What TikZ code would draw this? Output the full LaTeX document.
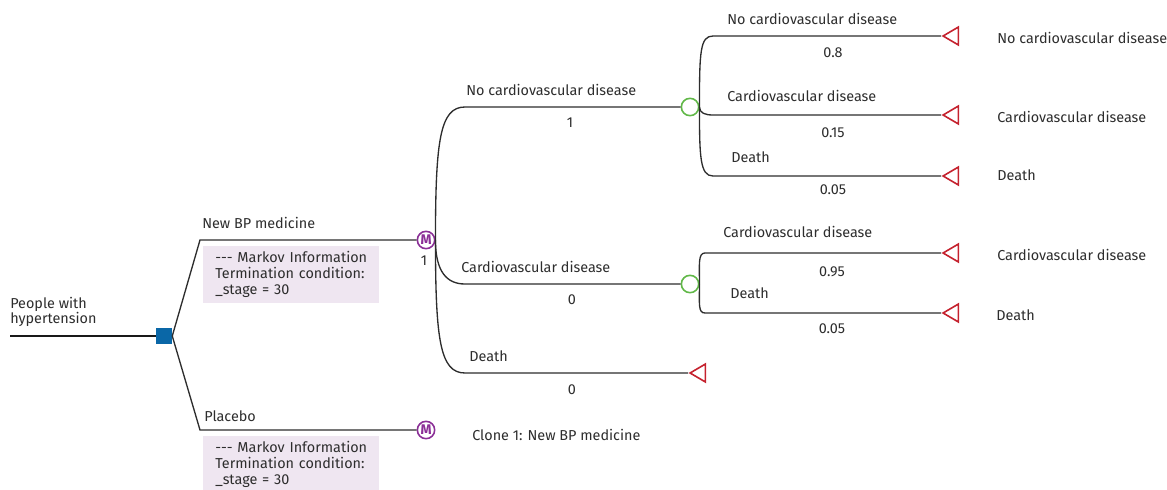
\documentclass[tikz,border=0pt]{standalone}
\usepackage{fontspec}
\setmainfont{Fira Sans}
\usetikzlibrary{calc,positioning,shapes.geometric}
\definecolor{decBlue}{RGB}{10,103,167}
\definecolor{chanceGreen}{RGB}{97,184,72}
\definecolor{markovPurple}{RGB}{139,47,151}
\definecolor{termRed}{RGB}{197,34,46}
\definecolor{infoPink}{RGB}{239,230,241}
\definecolor{txtGrey}{RGB}{45,45,45}
\tikzstyle{decision} = [rectangle, fill=decBlue, minimum size=12pt, inner sep=0pt]
\tikzstyle{markov} = [circle, draw=markovPurple, line width=1.2pt, minimum size=13pt, inner sep=0pt, text=markovPurple, font=\fontsize{10.5}{10.5}\selectfont\bfseries]
\tikzstyle{chance} = [circle, draw=chanceGreen, line width=1.2pt, minimum size=13pt, inner sep=0pt]
\tikzstyle{terminal} = [isosceles triangle, isosceles triangle stretches, shape border rotate=180, draw=termRed, line width=1.2pt, minimum height=11.5pt, minimum width=13.5pt, inner sep=0pt]
\tikzstyle{branch} = [draw=txtGrey, line width=1pt]
\tikzstyle{rootline} = [draw=black!90, line width=1.6pt]
\tikzstyle{lbl} = [text=txtGrey, inner sep=0pt, font=\fontsize{10.8}{11.3}\selectfont, anchor=base west]
\tikzstyle{prob} = [lbl, anchor=base]
\tikzstyle{info} = [fill=infoPink, text=txtGrey, anchor=north west, align=left, text width=114pt, inner xsep=9pt, inner ysep=0pt, minimum height=42.75pt, font=\fontsize{10.8}{12}\selectfont]

\begin{document}
\begin{tikzpicture}[x=0.75pt,y=-0.75pt]
      \useasboundingbox (0,0) rectangle (1167,489);
      %
      \coordinate (RootStart) at (10,336);
      \node[decision] (Treatment) at (164,336) {};
      \coordinate (NewBPCorner) at (200,240);
      \coordinate (PlaceboCorner) at (200,430);
      \node[markov] (NewBPMarkov) at (426,240) {M};
      \node[markov] (PlaceboMarkov) at (426,430) {M};
      \draw[rootline] (RootStart) -- (Treatment.west);
      \draw[branch] (Treatment.east) -- (NewBPCorner) -- (NewBPMarkov.west);
      \draw[branch] (Treatment.east) -- (PlaceboCorner) -- (PlaceboMarkov.west);
      \node[lbl, anchor=north west, align=left] (RootLabel) at (10,297) {People with\\hypertension};
      \node[lbl] (NewBPLabel) at ($(NewBPCorner)+(2,-12)$) {New BP medicine};
      \node[lbl] (PlaceboLabel) at ($(PlaceboCorner)+(4,-9)$) {Placebo};
      \node[info] (NewBPInfo) at (203,246) {-{}-{}- Markov Information\\Termination condition:\\\_stage = 30};
      \node[info] (PlaceboInfo) at (203,436) {-{}-{}- Markov Information\\Termination condition:\\\_stage = 30};
      \node[prob] (NewBPProb) at ($(NewBPMarkov)+(-2,25)$) {1};
      \node[lbl] (CloneLabel) at ($(PlaceboMarkov)+(46,10)$) {Clone 1: New BP medicine};
      %
      \coordinate (NoCvdCorner) at (465,107);
      \coordinate (CvdCorner) at (465,284);
      \coordinate (DeathCorner) at (465,373);
      \node[chance] (NoCvdChance) at (690,107) {};
      \node[chance] (CvdChance) at (690,284) {};
      \node[terminal, anchor=apex] (DeathEnd) at (688,373) {};
      \draw[branch] (NewBPMarkov.east) .. controls +(0,-100) and +(-25,0) .. (NoCvdCorner) -- (NoCvdChance.west);
      \draw[branch] (NewBPMarkov.east) .. controls +(0,32) and +(-18,0) .. (CvdCorner) -- (CvdChance.west);
      \draw[branch] (NewBPMarkov.east) .. controls +(0,100) and +(-25,0) .. (DeathCorner) -- (DeathEnd.apex);
      \node[lbl] (NoCvdLabel) at ($(NoCvdCorner)+(1,-12)$) {No cardiovascular disease};
      \node[prob] (NoCvdProb) at ($(NoCvdCorner)+(105,20)$) {1};
      \node[lbl] (CvdLabel) at ($(CvdCorner)+(-4,-12)$) {Cardiovascular disease};
      \node[prob] (CvdProb) at ($(CvdCorner)+(107,20)$) {0};
      \node[lbl] (DeathLabel) at ($(DeathCorner)+(4,-12)$) {Death};
      \node[prob] (DeathProb) at ($(DeathCorner)+(107,21)$) {0};
      %
      \coordinate (StayWellCorner) at (713,36);
      \coordinate (FallIllCorner) at (713,115);
      \coordinate (DieWellCorner) at (713,176);
      \node[terminal, anchor=apex] (StayWellEnd) at (941,36) {};
      \node[terminal, anchor=apex] (FallIllEnd) at (941,115) {};
      \node[terminal, anchor=apex] (DieWellEnd) at (941,176) {};
      \draw[branch] (NoCvdChance.east) .. controls +(0,-55) and +(-13,0) .. (StayWellCorner) -- (StayWellEnd.apex);
      \draw[branch] (NoCvdChance.east) .. controls +(0,6) and +(-8,0) .. (FallIllCorner) -- (FallIllEnd.apex);
      \draw[branch] (NoCvdChance.east) .. controls +(0,50) and +(-13,0) .. (DieWellCorner) -- (DieWellEnd.apex);
      \node[lbl] (StayWellLabel) at ($(StayWellCorner)+(14,-12)$) {No cardiovascular disease};
      \node[prob] (StayWellProb) at ($(StayWellCorner)+(120,21)$) {0.8};
      \node[lbl] (FallIllLabel) at ($(FallIllCorner)+(14,-14)$) {Cardiovascular disease};
      \node[prob] (FallIllProb) at ($(FallIllCorner)+(120,22)$) {0.15};
      \node[lbl] (DieWellLabel) at ($(DieWellCorner)+(18,-14)$) {Death};
      \node[prob] (DieWellProb) at ($(DieWellCorner)+(120,18)$) {0.05};
      \node[lbl] (StayWellOut) at ($(StayWellEnd.apex)+(56,7)$) {No cardiovascular disease};
      \node[lbl] (FallIllOut) at ($(FallIllEnd.apex)+(56,7)$) {Cardiovascular disease};
      \node[lbl] (DieWellOut) at ($(DieWellEnd.apex)+(56,4)$) {Death};
      %
      \coordinate (StayIllCorner) at (705,253);
      \coordinate (DieIllCorner) at (705,313);
      \node[terminal, anchor=apex] (StayIllEnd) at (941,253) {};
      \node[terminal, anchor=apex] (DieIllEnd) at (941,313) {};
      \draw[branch] (CvdChance.east) .. controls +(0,-20) and +(-7,0) .. (StayIllCorner) -- (StayIllEnd.apex);
      \draw[branch] (CvdChance.east) .. controls +(0,20) and +(-7,0) .. (DieIllCorner) -- (DieIllEnd.apex);
      \node[lbl] (StayIllLabel) at ($(StayIllCorner)+(18,-16)$) {Cardiovascular disease};
      \node[prob] (StayIllProb) at ($(StayIllCorner)+(127,23)$) {0.95};
      \node[lbl] (DieIllLabel) at ($(DieIllCorner)+(25,-15)$) {Death};
      \node[prob] (DieIllProb) at ($(DieIllCorner)+(127,20)$) {0.05};
      \node[lbl] (StayIllOut) at ($(StayIllEnd.apex)+(56,7)$) {Cardiovascular disease};
      \node[lbl] (DieIllOut) at ($(DieIllEnd.apex)+(55,7)$) {Death};
\end{tikzpicture}
\end{document}
